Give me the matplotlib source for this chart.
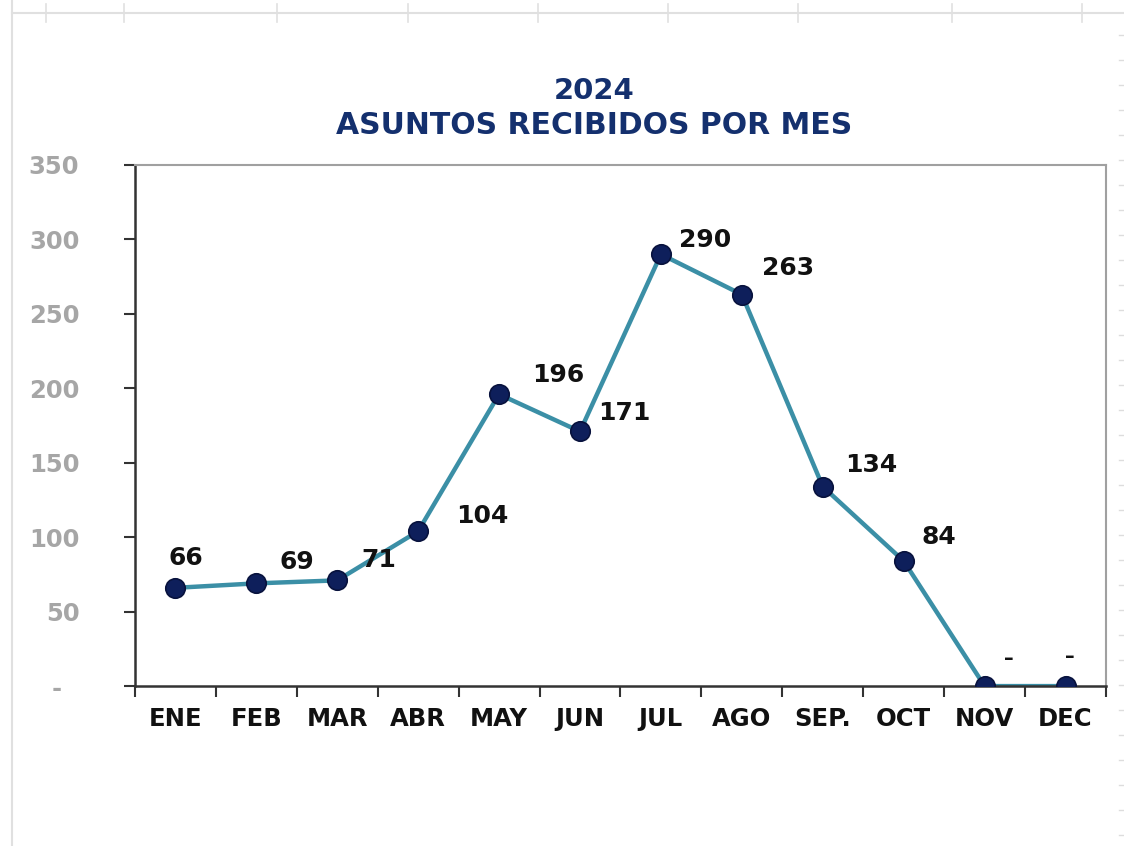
import numpy as np
import matplotlib
matplotlib.use("Agg")
import matplotlib.pyplot as plt
from matplotlib.lines import Line2D

# datos
meses = ["ENE", "FEB", "MAR", "ABR", "MAY", "JUN", "JUL", "AGO", "SEP.", "OCT", "NOV", "DEC"]
asuntos = [66, 69, 71, 104, 196, 171, 290, 263, 134, 84, 0, 0]
y_ticks = [0, 50, 100, 150, 200, 250, 300, 350]
y_labels = ["-  ", "50", "100", "150", "200", "250", "300", "350"]

# offsets of the value labels in pixels
offsets = [(11, 30), (41, 21), (42, 20), (64, 15), (59, 19), (44, 18), (44, 14), (46, 27), (48, 22), (35, 24), (24, 28), (4, 30)]

plt.rcParams['font.family'] = ['DejaVu Sans']

fig = plt.figure(figsize=(11.24, 8.46), dpi=100)
ax = fig.add_axes([0.120, 0.189, 0.864, 0.616])

x = np.arange(len(meses))
ax.plot(x, asuntos, color="#3B8FA6", lw=3.2, zorder=2)
ax.plot(x, asuntos, 'o', ms=14, color="#0E1F5B", mec="#08123D", mew=1.2, zorder=3)

for i, v in enumerate(asuntos):
    txt = "–" if v == 0 else str(v)
    ax.annotate(txt, (x[i], v), xytext=offsets[i], textcoords="offset pixels",
                ha="center", va="center", fontsize=18 if v else 14, fontweight="bold", color="#111111")

ax.set_xlim(-0.5, len(meses) - 0.5)
ax.set_ylim(0, 350)
ax.set_yticks(y_ticks)
ax.set_yticklabels(y_labels, fontsize=17.5, fontweight="bold", color="#A6A6A6")
ax.set_xticks(np.arange(-0.5, len(meses), 1))
ax.set_xticklabels([])
ax.set_xticks(x, minor=True)
ax.set_xticklabels(meses, minor=True, fontsize=17.5, fontweight="bold", color="#111111")
ax.tick_params(axis="x", which="minor", length=0, pad=15)
ax.tick_params(axis="x", which="major", length=8, width=1.5, color="#333333", direction="out")
ax.tick_params(axis="y", length=8, width=1.5, color="#333333", direction="out", pad=32)

for s in ["left", "bottom"]:
    ax.spines[s].set_color("#333333")
    ax.spines[s].set_linewidth(1.8)
for s in ["top", "right"]:
    ax.spines[s].set_color("#A0A0A0")
    ax.spines[s].set_linewidth(1.5)

fig.text(0.529, 0.893, "2024", ha="center", va="center", fontsize=21, fontweight="bold", color="#14306E")
fig.text(0.529, 0.852, "ASUNTOS RECIBIDOS POR MES", ha="center", va="center", fontsize=21.5,
         fontweight="bold", color="#14306E")

# spreadsheet grid remains
W, H = 1124, 846
fig.add_artist(Line2D([12 / W, 1], [1 - 13 / H, 1 - 13 / H], color="#E0E0E0", lw=1.5))
fig.add_artist(Line2D([12 / W, 12 / W], [0, 1], color="#E0E0E0", lw=1.5))
for px in [12, 46, 124, 277, 408, 538, 668, 798, 952, 1082]:
    fig.add_artist(Line2D([px / W, px / W], [1 - 4 / H, 1 - 22 / H], color="#E0E0E0", lw=1.2))
for py in range(35, 846, 25):
    fig.add_artist(Line2D([1119 / W, 1123 / W], [1 - py / H, 1 - py / H], color="#DDDDDD", lw=1))

fig.savefig("out.png", dpi=100)
